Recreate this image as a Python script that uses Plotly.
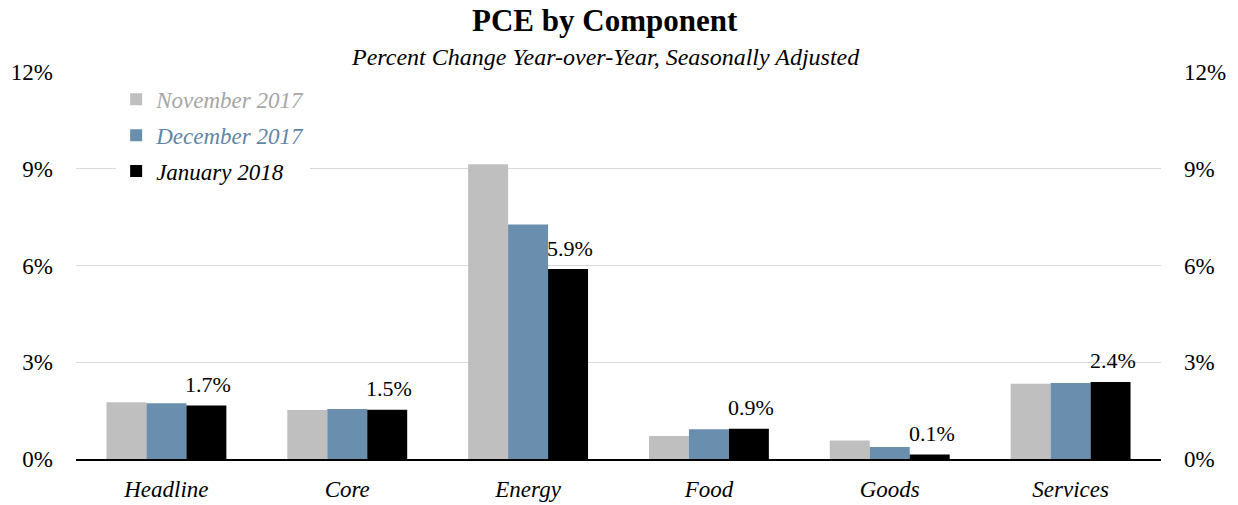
import plotly.graph_objects as go

categories = ["Headline", "Core", "Energy", "Food", "Goods", "Services"]
nov_2017 = [1.76, 1.52, 9.14, 0.71, 0.57, 2.33]
dec_2017 = [1.73, 1.55, 7.27, 0.92, 0.37, 2.36]
jan_2018 = [1.66, 1.53, 5.89, 0.94, 0.14, 2.39]
series_names = ["November 2017", "December 2017", "January 2018"]
series_colors = ["#bfbfbf", "#6a8fae", "#000000"]
legend_text_colors = ["#a6a6a6", "#5f86a8", "#000000"]
tick_vals = [0, 3, 6, 9, 12]
tick_text = ["0%", "3%", "6%", "9%", "12%"]

FONT = "Liberation Serif"
W, H = 1238, 505
ML, MR, MT, MB = 76, 77, 72, 46
plot_h = H - MT - MB
plot_w = W - ML - MR

fig = go.Figure()
for i, (name, vals, col, tcol) in enumerate(zip(series_names, [nov_2017, dec_2017, jan_2018],
                                                series_colors, legend_text_colors)):
    fig.add_trace(go.Bar(
        x=categories, y=vals,
        name=f"<span style='color:{tcol}'><i>{name}</i></span>",
        legendgroup=f"g{i}",
        marker=dict(color=col, line=dict(width=0)),
        hoverinfo="skip",
    ))

fig.add_trace(go.Scatter(x=categories, y=jan_2018, yaxis="y2", mode="markers",
                         marker=dict(opacity=0), showlegend=False, hoverinfo="skip"))

annotations = [
    dict(text="<b>PCE by Component</b>", x=(605 - ML) / plot_w, xref="paper",
         y=(H - MB - 21) / plot_h, yref="paper", yanchor="middle",
         showarrow=False, font=dict(family=FONT, size=31)),
    dict(text="<i>Percent Change Year-over-Year, Seasonally Adjusted</i>", x=(605 - ML) / plot_w,
         xref="paper", y=(H - MB - 57) / plot_h, yref="paper", yanchor="middle",
         showarrow=False, font=dict(family=FONT, size=24)),
]
for c, v in zip(categories, jan_2018):
    annotations.append(dict(text=f"{v:.1f}%", x=c, y=v, xref="x", yref="y",
                            xshift=42, yshift=21, yanchor="middle", showarrow=False,
                            font=dict(family=FONT, size=22, color="#000000")))

fig.update_layout(
    width=W, height=H,
    margin=dict(l=ML, r=MR, t=MT, b=MB, autoexpand=False),
    paper_bgcolor="white", plot_bgcolor="white",
    barmode="group", bargap=0.337, bargroupgap=0,
    font=dict(family=FONT, size=22, color="#000000"),
    showlegend=True,
    legend=dict(x=0.037, y=0.985, xanchor="left", yanchor="top",
                bgcolor="white", font=dict(family=FONT, size=23),
                itemwidth=30, traceorder="grouped", tracegroupgap=3),
    xaxis=dict(showgrid=False, showline=True, linecolor="#000000", linewidth=2,
               ticks="", tickfont=dict(family=FONT, size=23), automargin=False,
               ticklabelstandoff=8,
               tickvals=categories, ticktext=[f"<i>{c}</i>" for c in categories]),
    yaxis=dict(range=[0, 12], tickvals=tick_vals, ticktext=tick_text,
               showgrid=True, gridcolor="#d9d9d9", gridwidth=1, automargin=False,
               zeroline=False, showline=False, ticks="",
               tickfont=dict(family=FONT, size=23), ticklabelstandoff=22),
    yaxis2=dict(range=[0, 12], tickvals=tick_vals, ticktext=tick_text,
                overlaying="y", side="right", showgrid=False, zeroline=False,
                automargin=False,
                showline=False, ticks="", tickfont=dict(family=FONT, size=23),
                ticklabelstandoff=22),
    annotations=annotations,
)

fig.write_html("out.html", config={"displayModeBar": False},
               post_script="document.body.style.margin='0';")
